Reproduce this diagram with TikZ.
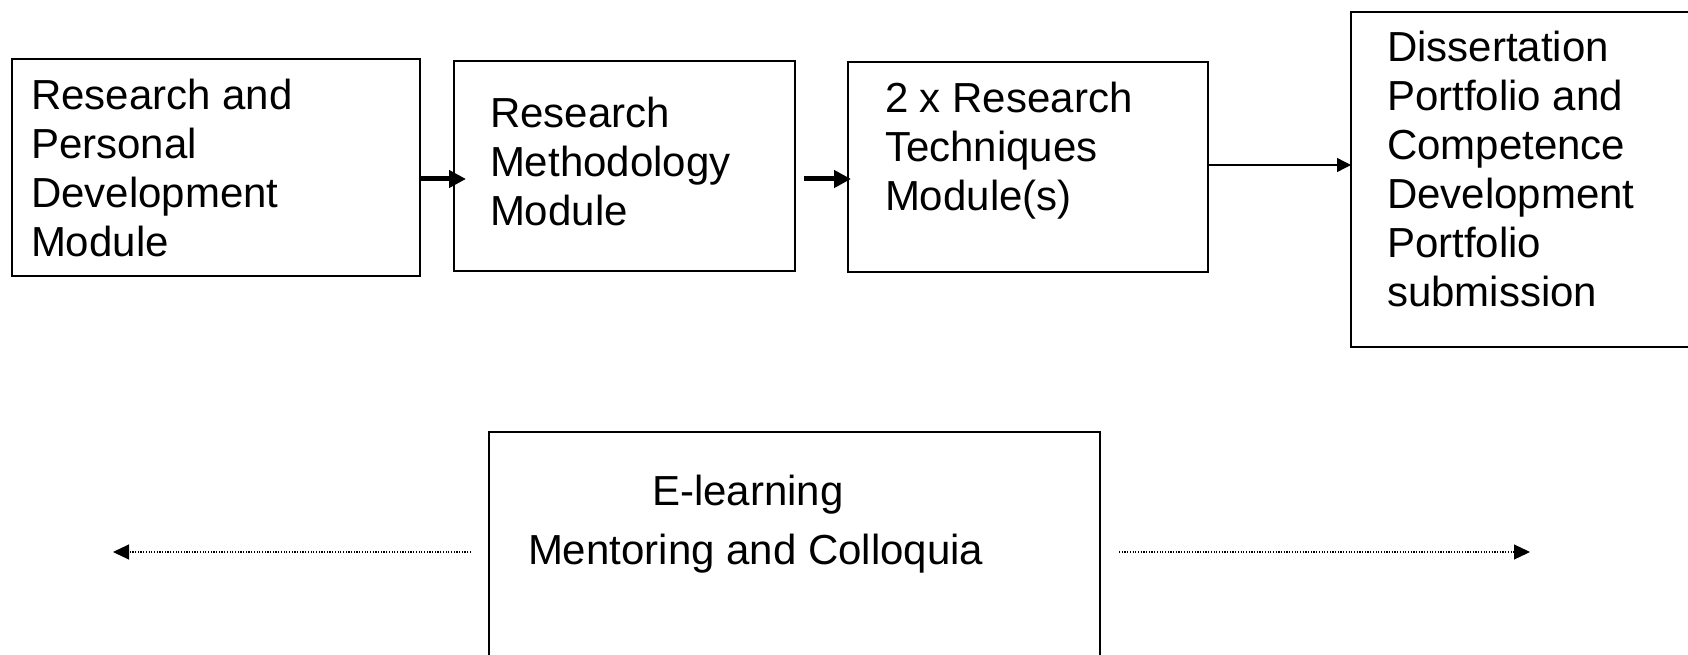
\documentclass[tikz,border=0pt]{standalone}
\usepackage{fontspec}
\setmainfont{Liberation Sans}
\usetikzlibrary{arrows.meta}
\newcommand\textlines[1]{\parbox[t]{400pt}{\raggedright #1}}
\begin{document}
\begin{tikzpicture}[x=1pt,y=-1pt,
  box/.style={draw=black, line width=1.3pt, inner sep=0pt, outer sep=0pt, fill=none},
  txt/.style={anchor=base west, inner sep=0pt, outer sep=0pt, font=\fontsize{42}{49}\selectfont},
  thickarrow/.style={line width=5pt, -{Triangle[length=17pt,width=17pt]}},
  thinarrow/.style={line width=1.3pt, -{Triangle[length=14pt,width=14pt]}},
  dotarrow/.style={line width=1.1pt, dash pattern=on 1.2pt off 1.5pt, -{Triangle[length=16pt,width=15pt]}}
]
\useasboundingbox (0,0) rectangle (1688,655);
\clip (0,0) rectangle (1688,655);
\fill[white] (0,0) rectangle (1688,655);

% boxes
\node[box, minimum width=408pt, minimum height=217pt] (b1) at (216,167.5) {};
\node[box, minimum width=341pt, minimum height=210pt] (b2) at (624.5,166) {};
\node[box, minimum width=360pt, minimum height=210pt] (b3) at (1028,167) {};
\node[box, minimum width=360pt, minimum height=335pt] (b4) at (1531,179.5) {};
\node[box, minimum width=611pt, minimum height=250pt] (b5) at (794.5,557) {};

% texts
\node[txt] (t1) at (31,110) {\textlines{Research and\\Personal\\Development\\Module}};
\node[txt] (t2) at (490,128) {\textlines{Research\\Methodology\\Module}};
\node[txt] (t3) at (885,113) {\textlines{2 x Research\\Techniques\\Module(s)}};
\node[txt] (t4) at (1387,62) {\textlines{Dissertation\\Portfolio and\\Competence\\Development\\Portfolio\\submission}};
\node[txt] (t5) at (652,505) {E-learning};
\node[txt] (t6) at (528,564) {Mentoring and Colloquia};

% connectors
\coordinate (lend) at (113,552);
\coordinate (rend) at (1530,552);
\draw[thickarrow] ([yshift=-11.5pt]b1.east) -- ([xshift=12pt,yshift=-13pt]b2.west);
\draw[thickarrow] ([xshift=9pt,yshift=-13pt]b2.east) -- ([xshift=3pt,yshift=-12pt]b3.west);
\draw[thinarrow] ([yshift=2pt]b3.east) -- ([yshift=14.5pt]b4.west);
\draw[dotarrow] ([xshift=-18pt,yshift=5pt]b5.west) -- (lend);
\draw[dotarrow] ([xshift=19pt,yshift=5pt]b5.east) -- (rend);
\end{tikzpicture}
\end{document}
